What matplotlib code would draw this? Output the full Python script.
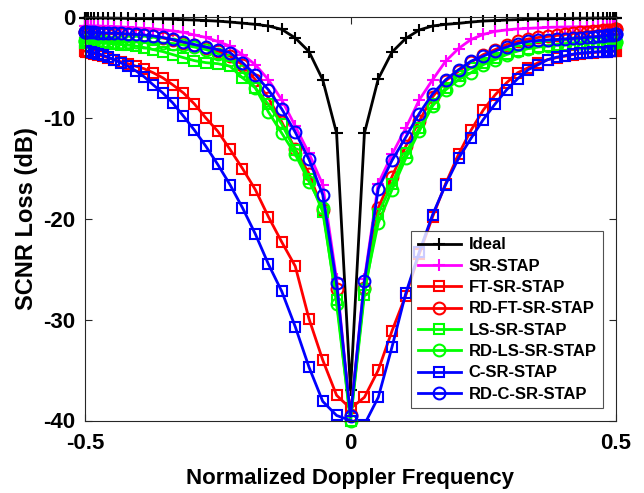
import matplotlib
matplotlib.use("Agg")
import matplotlib.pyplot as plt
import numpy as np

plt.rcParams['font.family'] = ['Liberation Sans', 'DejaVu Sans']
plt.rcParams['font.weight'] = 'bold'

# Normalized Doppler frequency grid
freq_pos = [0.0262, 0.0523, 0.0782, 0.1040, 0.1294, 0.1545, 0.1792, 0.2034, 0.2270, 0.2500,
            0.2723, 0.2939, 0.3147, 0.3346, 0.3536, 0.3716, 0.3886, 0.4045, 0.4193, 0.4330,
            0.4455, 0.4568, 0.4668, 0.4755, 0.4830, 0.4891, 0.4938, 0.4973, 0.4993, 0.5000]
freq = [-f for f in freq_pos[::-1]] + [0.0] + freq_pos

# Loss values: left side (f=-0.5 .. -0.026), centre, right side (0.026 .. 0.5)
ideal_left = [-0.05, -0.05, -0.05, -0.05, -0.06, -0.06, -0.07, -0.07, -0.08, -0.09, -0.1, -0.11, -0.12, -0.13, -0.15,
              -0.17, -0.2, -0.23, -0.27, -0.32, -0.38, -0.47, -0.58, -0.7, -0.86, -1.2, -2.05, -3.4, -6.2, -11.5]
ideal_mid = -37.0
ideal_right = [-11.5, -6.1, -3.45, -2.1, -1.26, -0.86, -0.7, -0.6, -0.47, -0.37, -0.32, -0.27, -0.23, -0.2, -0.17,
               -0.15, -0.13, -0.12, -0.11, -0.1, -0.09, -0.08, -0.07, -0.07, -0.06, -0.06, -0.05, -0.05, -0.05, -0.05]

sr_left = [-0.82, -0.82, -0.82, -0.83, -0.84, -0.85, -0.86, -0.88, -0.9, -0.92, -0.95, -1.0, -1.05, -1.1, -1.15,
           -1.25, -1.35, -1.5, -1.75, -2.0, -2.4, -2.85, -3.7, -4.7, -6.2, -8.2, -10.8, -13.5, -16.6, -26.0]
sr_mid = -39.6
sr_right = [-26.0, -16.5, -13.6, -11.0, -8.2, -6.2, -4.35, -3.1, -2.2, -1.7, -1.4, -1.25, -1.15, -1.1, -1.05,
            -1.0, -0.98, -0.96, -0.95, -0.94, -0.93, -0.92, -0.91, -0.9, -0.9, -0.9, -0.9, -0.9, -0.9, -0.9]

ft_left = [-3.35, -3.35, -3.4, -3.45, -3.5, -3.6, -3.7, -3.85, -4.0, -4.2, -4.4, -4.6, -4.85, -5.1, -5.5,
           -6.0, -6.7, -7.5, -8.6, -10.0, -11.3, -13.1, -15.0, -17.1, -19.8, -22.3, -24.7, -29.9, -34.0, -37.5]
ft_mid = -38.8
ft_right = [-37.7, -35.0, -31.1, -27.6, -23.5, -19.8, -16.5, -13.6, -11.2, -9.2, -7.7, -6.5, -5.5, -5.0, -4.5,
            -4.2, -4.0, -3.85, -3.7, -3.6, -3.55, -3.5, -3.45, -3.4, -3.4, -3.35, -3.35, -3.35, -3.35, -3.35]

rdft_left = [-1.5, -1.5, -1.5, -1.52, -1.53, -1.55, -1.57, -1.6, -1.62, -1.65, -1.67, -1.7, -1.75, -1.8, -1.9,
             -2.05, -2.25, -2.5, -2.75, -3.0, -3.35, -3.85, -4.7, -6.2, -8.0, -10.4, -13.1, -15.5, -19.1, -27.0]
rdft_mid = -39.5
rdft_right = [-26.9, -18.9, -15.8, -12.8, -10.3, -7.9, -6.3, -5.35, -4.45, -3.7, -3.2, -2.7, -2.4, -2.15, -2.0,
              -1.9, -1.8, -1.7, -1.6, -1.5, -1.45, -1.4, -1.35, -1.3, -1.28, -1.25, -1.22, -1.2, -1.2, -1.2]

ls_left = [-2.5, -2.5, -2.5, -2.5, -2.52, -2.53, -2.55, -2.57, -2.6, -2.65, -2.7, -2.75, -2.85, -3.0, -3.2,
           -3.4, -3.7, -4.0, -4.3, -4.5, -4.6, -4.85, -6.0, -7.0, -8.65, -10.6, -13.2, -16.0, -19.3, -28.0]
ls_mid = -40.0
ls_right = [-27.5, -19.5, -16.5, -13.5, -11.0, -8.6, -7.0, -5.8, -5.0, -4.5, -4.0, -3.6, -3.3, -3.1, -2.95,
            -2.85, -2.75, -2.7, -2.65, -2.6, -2.58, -2.56, -2.54, -2.52, -2.5, -2.5, -2.5, -2.5, -2.5, -2.5]

rdls_left = [-2.4, -2.4, -2.4, -2.4, -2.4, -2.4, -2.4, -2.4, -2.42, -2.42, -2.43, -2.44, -2.45, -2.47, -2.5,
             -2.55, -2.6, -2.75, -2.95, -3.2, -3.6, -4.2, -5.3, -7.0, -9.4, -11.5, -13.6, -16.3, -18.9, -28.4]
rdls_mid = -40.0
rdls_right = [-27.0, -20.4, -17.1, -14.0, -11.3, -8.8, -7.2, -6.2, -5.5, -4.7, -4.2, -3.7, -3.35, -3.1, -2.9,
              -2.8, -2.7, -2.6, -2.55, -2.52, -2.5, -2.48, -2.47, -2.46, -2.45, -2.45, -2.45, -2.45, -2.45, -2.45]

c_left = [-3.35, -3.35, -3.35, -3.4, -3.45, -3.5, -3.6, -3.75, -3.95, -4.2, -4.5, -4.85, -5.3, -5.9, -6.7,
          -7.5, -8.5, -9.8, -11.2, -12.8, -14.6, -16.6, -18.9, -21.5, -24.5, -27.2, -30.7, -34.7, -38.1, -39.5]
c_mid = -40.0
c_right = [-40.4, -37.7, -32.7, -27.4, -23.3, -19.6, -16.6, -14.0, -12.0, -10.15, -8.6, -7.2, -6.1, -5.2, -4.7,
           -4.2, -3.95, -3.8, -3.65, -3.55, -3.5, -3.45, -3.42, -3.4, -3.4, -3.38, -3.36, -3.35, -3.35, -3.35]

rdc_left = [-1.5, -1.5, -1.5, -1.5, -1.5, -1.5, -1.52, -1.53, -1.55, -1.58, -1.6, -1.65, -1.7, -1.75, -1.85,
            -2.0, -2.2, -2.45, -2.7, -2.95, -3.2, -3.5, -4.5, -5.7, -7.2, -9.1, -11.4, -14.1, -17.6, -26.4]
rdc_mid = -39.6
rdc_right = [-26.2, -17.0, -14.2, -11.9, -9.55, -7.6, -6.2, -5.2, -4.35, -3.85, -3.35, -2.95, -2.6, -2.4, -2.3,
             -2.25, -2.2, -2.15, -2.1, -2.05, -2.0, -1.95, -1.9, -1.85, -1.8, -1.75, -1.75, -1.7, -1.7, -1.7]

labels = ['Ideal', 'SR-STAP', 'FT-SR-STAP', 'RD-FT-SR-STAP', 'LS-SR-STAP', 'RD-LS-SR-STAP', 'C-SR-STAP', 'RD-C-SR-STAP']
series = [
    (ideal_left, ideal_mid, ideal_right),
    (sr_left, sr_mid, sr_right),
    (ft_left, ft_mid, ft_right),
    (rdft_left, rdft_mid, rdft_right),
    (ls_left, ls_mid, ls_right),
    (rdls_left, rdls_mid, rdls_right),
    (c_left, c_mid, c_right),
    (rdc_left, rdc_mid, rdc_right),
]
colors = ['#000000', '#ff00ff', '#ff0000', '#ff0000', '#00ff00', '#00ff00', '#0000ff', '#0000ff']
markers = ['+', '+', 's', 'o', 's', 'o', 's', 'o']
msizes = [9, 9, 7, 8.5, 7, 8.5, 7, 8.5]

fig = plt.figure(figsize=(6.44, 4.93), dpi=100)
ax = fig.add_axes([85 / 644, 1 - 420.5 / 493, 531 / 644, (420.5 - 17.3) / 493])

for (lft, mid, rgt), lab, col, mk, ms in zip(series, labels, colors, markers, msizes):
    y = list(lft) + [mid] + list(rgt)
    clip = (lab == 'C-SR-STAP')
    ax.plot(freq, y, color=col, marker=mk, markersize=ms, markerfacecolor='none',
            markeredgewidth=1.5, linewidth=2.0, label=lab, clip_on=clip)

ax.set_xlim(-0.5, 0.5)
ax.set_ylim(-40, 0)
ax.set_xticks([-0.5, 0, 0.5])
ax.set_xticklabels(['-0.5', '0', '0.5'])
ax.set_yticks([-40, -30, -20, -10, 0])
ax.set_yticklabels(['-40', '-30', '-20', '-10', '0'])
ax.tick_params(direction='in', top=True, right=True, length=5, width=0.8,
               labelsize=16, colors='#262626')
ax.tick_params(axis='x', pad=9)
ax.tick_params(axis='y', pad=7)
for lbl in ax.get_xticklabels() + ax.get_yticklabels():
    lbl.set_fontweight('bold')
    lbl.set_color('black')
for sp in ax.spines.values():
    sp.set_color('#262626')
    sp.set_linewidth(0.8)

ax.set_xlabel('Normalized Doppler Frequency', fontsize=16, fontweight='bold', labelpad=10)
ax.set_ylabel('SCNR Loss (dB)', fontsize=17, fontweight='bold', labelpad=4)

leg = ax.legend(loc='lower right', bbox_to_anchor=(0.976, 0.030), borderaxespad=0,
                fontsize=12, frameon=True, fancybox=False, edgecolor='#262626',
                handlelength=2.6, labelspacing=0.38, handletextpad=0.45, borderpad=0.4)
leg.get_frame().set_linewidth(0.8)
for t in leg.get_texts():
    t.set_fontweight('bold')

fig.savefig('out.png', dpi=100)
